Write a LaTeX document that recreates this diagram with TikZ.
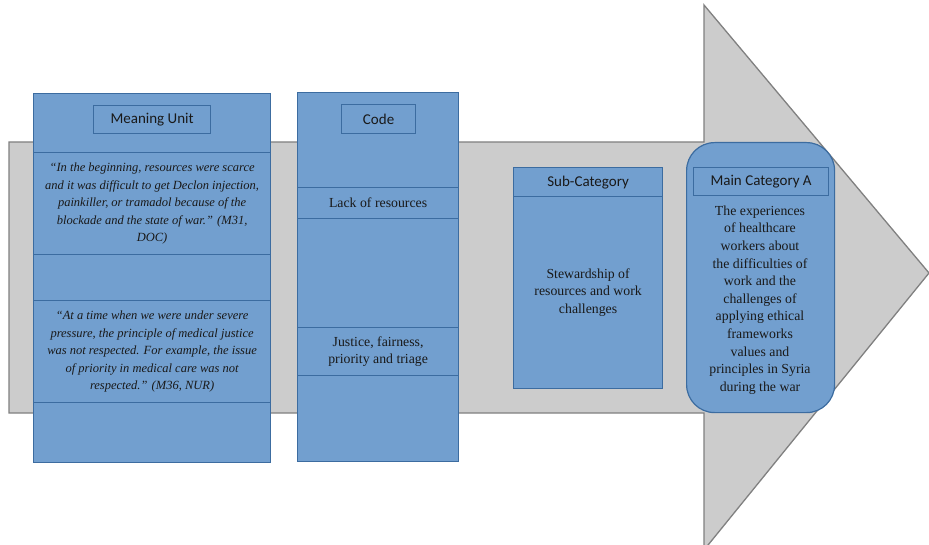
\documentclass[tikz,border=0pt]{standalone}
\usepackage{fontspec}
\setmainfont{Liberation Serif}
\newfontfamily\hdfont{Carlito}
\definecolor{cellfill}{RGB}{114,159,207}
\definecolor{cellline}{RGB}{60,108,160}
\definecolor{shaftfill}{RGB}{204,204,204}
\definecolor{shaftline}{RGB}{128,128,128}
\definecolor{ink}{RGB}{25,25,25}
\begin{document}
\begin{tikzpicture}[x=1pt,y=-1pt,
  cell/.style={draw=cellline, fill=cellfill, line width=1.2pt, inner sep=0pt,
    anchor=north west, text=ink, align=center},
  hdbox/.style={cell, font=\hdfont\fontsize{15}{17}\selectfont},
  quote/.style={font=\itshape\fontsize{12.5}{17.6}\selectfont},
  body/.style={font=\fontsize{13.8}{17.6}\selectfont},
  txt/.style={inner sep=0pt, text=ink, align=center}]
\useasboundingbox (0,0) rectangle (929,545);

% the grey process arrow behind the columns
\filldraw[fill=shaftfill, draw=shaftline, line width=1.3pt, line join=miter]
  (9,142) -- (704,142) -- (704,5) -- (929,273) -- (704,550) -- (704,413)
  -- (9,413) -- cycle;

% Meaning unit column
\node[cell, minimum width=237, minimum height=59]  (mu0) at (33,93)  {};
\node[cell, minimum width=237, minimum height=102, quote] (mu1) at (33,152) {%
  “In the beginning, resources were scarce\\
  and it was difficult to get Declon injection,\\
  painkiller, or tramadol because of the\\
  blockade and the state of war.” (M31,\\
  DOC)};
\node[cell, minimum width=237, minimum height=46]  (mu2) at (33,254) {};
\node[cell, minimum width=237, minimum height=102, quote] (mu3) at (33,300) {%
  “At a time when we were under severe\\
  pressure, the principle of medical justice\\
  was not respected. For example, the issue\\
  of priority in medical care was not\\
  respected.” (M36, NUR)};
\node[cell, minimum width=237, minimum height=60]  (mu4) at (33,402) {};
\node[hdbox, minimum width=117, minimum height=28] (muhd) at (93,105) {Meaning Unit};

% Code column
\node[cell, minimum width=161, minimum height=95]  (c0) at (297,92)  {};
\node[cell, minimum width=161, minimum height=31, body] (c1) at (297,187) {Lack of resources};
\node[cell, minimum width=161, minimum height=109] (c2) at (297,218) {};
\node[cell, minimum width=161, minimum height=48, body] (c3) at (297,327) {%
  Justice, fairness,\\ priority and triage};
\node[cell, minimum width=161, minimum height=86]  (c4) at (297,375) {};
\node[hdbox, minimum width=74, minimum height=29] (chd) at (341,104) {Code};

% Sub-category column
\node[hdbox, minimum width=149, minimum height=29] (shd) at (513,167) {Sub-Category};
\node[cell, minimum width=149, minimum height=192, body] (s1) at (513,196) {%
  Stewardship of\\ resources and work\\ challenges};

% Main category
\node[cell, rounded corners=28pt, minimum width=148, minimum height=270] (mc) at (686,142) {};
\node[hdbox, minimum width=135, minimum height=28] (mchd) at (693,167) {Main Category A};
\node[txt, body] (mctx) at (760,300) {%
  The experiences\\ of healthcare\\ workers about\\ the difficulties of\\
  work and the\\ challenges of\\ applying ethical\\ frameworks\\ values and\\
  principles in Syria\\ during the war};
\end{tikzpicture}
\end{document}
